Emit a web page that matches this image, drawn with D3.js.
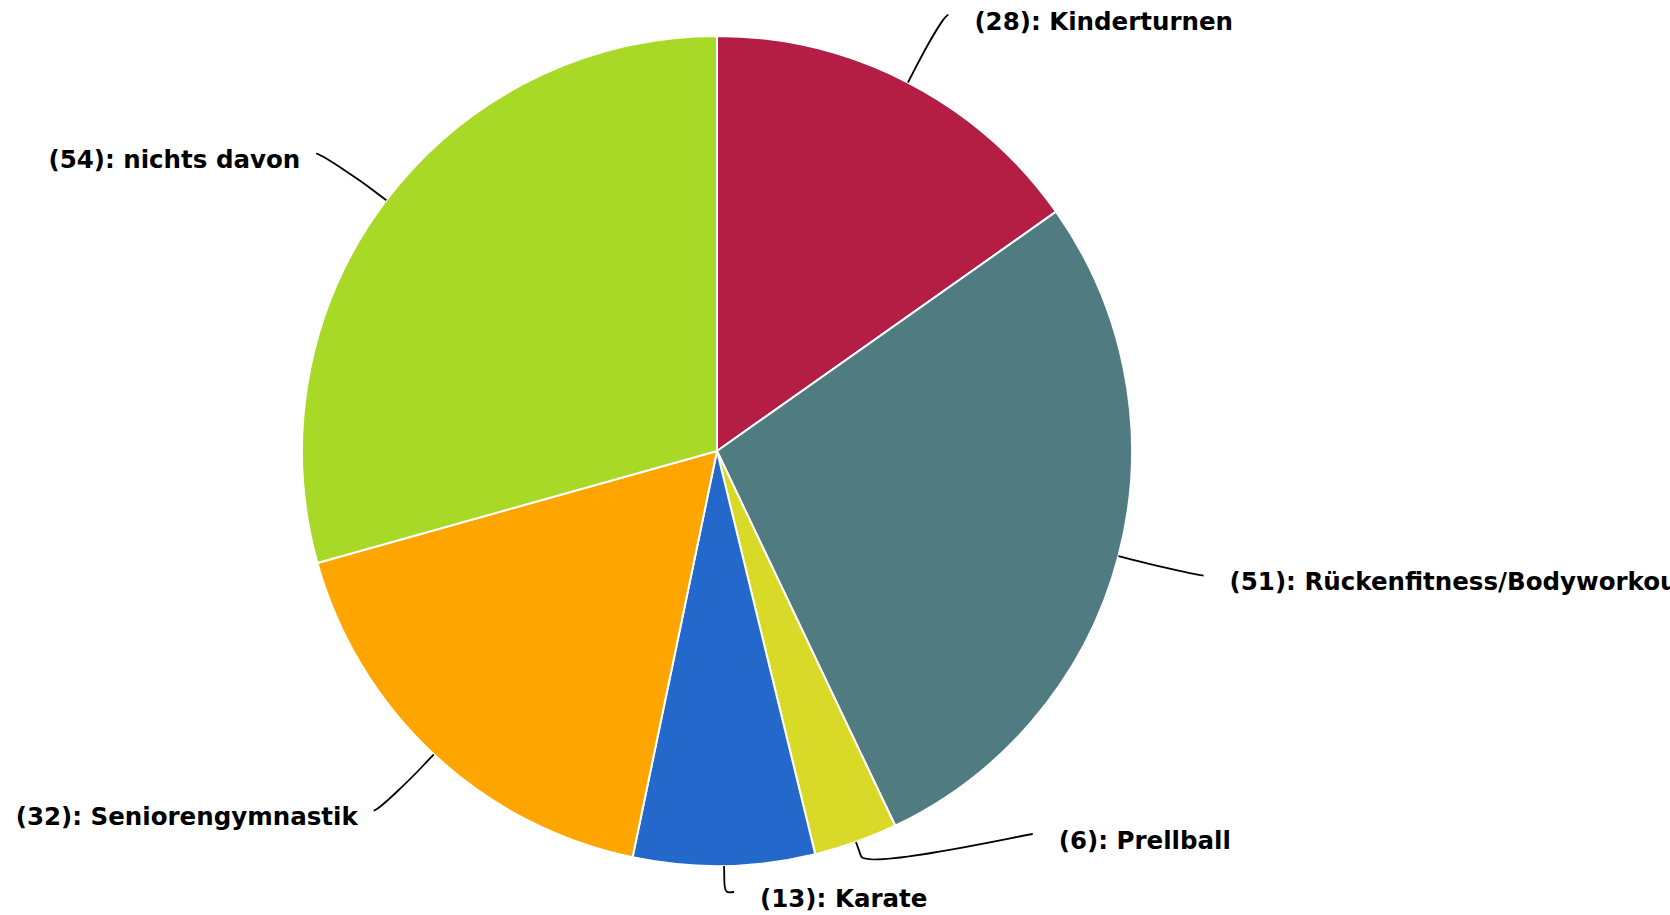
<!DOCTYPE html>
<html>
<head>
<meta charset="utf-8">
<script src="https://cdn.jsdelivr.net/npm/d3@7"></script>
<style>
  html, body { margin: 0; padding: 0; background: #fff; overflow: hidden; }
  svg { display: block; }
  .lbl { font-family: "DejaVu Sans", sans-serif; font-weight: bold; font-size: 24.5px; fill: #000; }
</style>
</head>
<body>
<svg id="chart" width="1670" height="915"></svg>
<script>
// pie data
var categories = ["Kinderturnen", "Rückenfitness/Bodyworkout", "Prellball", "Karate", "Seniorengymnastik", "nichts davon"];
var values = [28, 51, 6, 13, 32, 54];
var colors = ["#b41e44", "#4f7b81", "#d9d927", "#2468cc", "#ffa500", "#a8d926"];

var W = 1670, H = 915;
var cx = 717, cy = 451, r = 415;
var distX = 88, distY = 77; // distance of labels outside the pie
var connOffset = 15;     // where the connector breaks
var spacing = 58;        // min vertical gap between labels on one side

var svg = d3.select("#chart");

var pie = d3.pie().sort(null).value(function(d){ return d; });
var arcs = pie(values);

var arc = d3.arc().innerRadius(0).outerRadius(r);

var g = svg.append("g").attr("transform", "translate(" + cx + "," + cy + ")");
g.selectAll("path.slice")
	.data(arcs)
	.enter().append("path")
	.attr("class", "slice")
	.attr("d", arc)
	.attr("fill", function(d, i){ return colors[i]; })
	.attr("stroke", "#fff")
	.attr("stroke-width", 2)
	.attr("stroke-linejoin", "round");

//label positions (highcharts-ish)
var Rx = r + distX, Ry = r + distY;
var labels = arcs.map(function(d, i){
	var a = (d.startAngle + d.endAngle) / 2;
	var s = Math.sin(a), c = Math.cos(a);
	var ny = cy - Ry * c;
	var y = Math.max(15, Math.min(H - 23, ny));
	var x = cx + Rx * s;
	// keep a small horizontal stub for labels straight below/above
	var tx = cx + r * s;
	if (s >= 0) x = Math.max(x, tx + 10); else x = Math.min(x, tx - 10);
	return {
		i: i, a: a, sin: s, cos: c,
		right: s >= 0,
		ny: ny, y: y, x: x,
		pushed: false
	};
});

[true, false].forEach(function(side){
	var list = labels.filter(function(l){ return l.right === side; })
		.sort(function(a, b){ return a.ny - b.ny; });
	for (var k = list.length - 2; k >= 0; k--) {
		var lim = list[k + 1].y - spacing;
		if (list[k].y > lim) { list[k].y = lim; list[k].pushed = true; }
	}
	list.forEach(function(l){
		if (l.pushed) {
			var q = (l.y - cy) / Ry;
			l.x = cx + (side ? 1 : -1) * Rx * Math.sqrt(Math.max(0, 1 - q * q));
		}
	});
});

// connectors
svg.selectAll("path.conn")
	.data(labels)
	.enter().append("path")
	.attr("class", "conn")
	.attr("fill", "none")
	.attr("stroke", "#000")
	.attr("stroke-width", 1.8)
	.attr("d", function(l){
		var tx = cx + r * l.sin, ty = cy - r * l.cos;
		var bx = cx + (r + connOffset) * l.sin, by = cy - (r + connOffset) * l.cos;
		var c1x = l.x + (l.right ? -5 : 5);
		return "M" + l.x + "," + l.y +
			"C" + c1x + "," + l.y + " " + (2 * bx - tx) + "," + (2 * by - ty) + " " + bx + "," + by +
			"L" + tx + "," + ty;
	});

svg.selectAll("text.lbl")
	.data(labels)
	.enter().append("text")
	.attr("class", "lbl")
	.attr("x", function(l){ return l.right ? l.x + 26 : l.x - 16; })
	.attr("y", function(l){ return l.y + 6; })
	.attr("dy", "0.35em")
	.attr("text-anchor", function(l){ return l.right ? "start" : "end"; })
	.text(function(l){ return "(" + values[l.i] + "): " + categories[l.i]; });
</script>
</body>
</html>
